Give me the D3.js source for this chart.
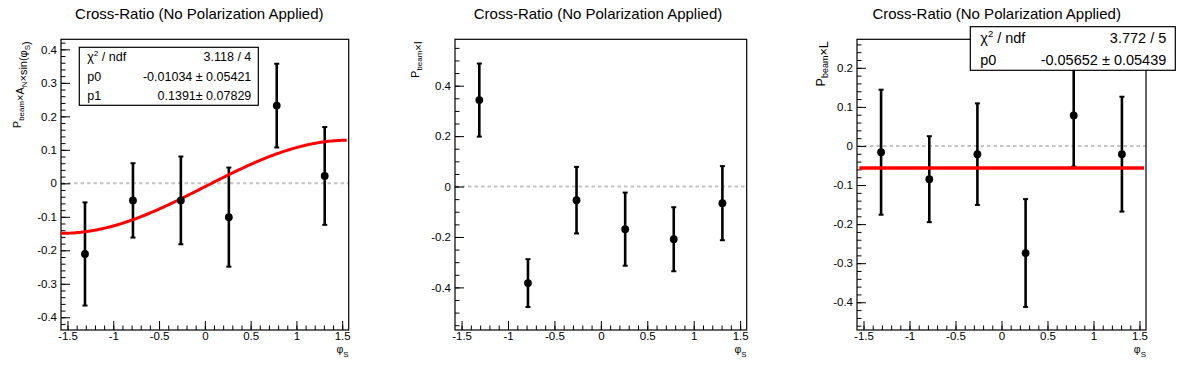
<!DOCTYPE html>
<html lang="en">
<head>
  <meta charset="UTF-8">
  <title>Cross-Ratio (No Polarization Applied)</title>
  <script src="https://d3js.org/d3.v7.min.js"></script>
  <style>
    body { margin: 0; background: #fff; }
    svg { display: block; font-family: "Liberation Sans", Arial, Helvetica, sans-serif; }
    .tick text { font-size: 11.5px; fill: #000; }
    .tick line { stroke: #000; stroke-width: 1; }
  </style>
</head>
<body>
<svg id="chart" width="1196" height="372"></svg>
<script>
  // bin centres in phi_S (same for all three plots)
  const phiBins = [-1.309, -0.785, -0.262, 0.262, 0.785, 1.309];

  const anValues = [-0.211, -0.051, -0.051, -0.101, 0.232, 0.022];
  const anErrors = [0.154, 0.111, 0.131, 0.148, 0.125, 0.146];
  const iValues  = [0.343, -0.383, -0.054, -0.169, -0.209, -0.066];
  const iErrors  = [0.145, 0.095, 0.132, 0.145, 0.127, 0.147];
  const lValues  = [-0.016, -0.085, -0.021, -0.274, 0.078, -0.021];
  const lErrors  = [0.160, 0.110, 0.130, 0.138, 0.131, 0.147];

  // fit results: p0 + p1*sin(phi) and p0 (constant)
  const anFit = [-0.01034, 0.1391];
  const lFit  = [-0.05652];
  const anStats = [["χ2 / ndf", "3.118 / 4"], ["p0", "-0.01034 ± 0.05421"], ["p1", "0.1391± 0.07829"]];
  const lStats  = [["χ2 / ndf", "3.772 / 5"], ["p0", "-0.05652 ± 0.05439"]];

  const xTicks = [-1.5, -1, -0.5, 0, 0.5, 1, 1.5];
  const anTicks = [-0.4, -0.3, -0.2, -0.1, 0, 0.1, 0.2, 0.3, 0.4];
  const iTicks  = [-0.4, -0.2, 0, 0.2, 0.4];
  const lTicks  = [-0.4, -0.3, -0.2, -0.1, 0, 0.1, 0.2];

  const title = "Cross-Ratio (No Polarization Applied)";
  const fmt = d => Math.abs(d) < 1e-9 ? "0" : String(+d.toFixed(2));

  const svg = d3.select("#chart");
  const padW = 1196 / 3;

  function minorTicks(lo, hi, step) {
    const out = [];
    for (let i = Math.ceil(lo / step - 1e-6); i <= Math.floor(hi / step + 1e-6); i++) out.push(+(i * step).toFixed(4));
    return out;
  }

  function drawPanel(p) {
    const g = svg.append("g");
    const x = d3.scaleLinear().domain([-Math.PI / 2, Math.PI / 2]).range([p.left, p.right]);
    const y = d3.scaleLinear().domain(p.yDomain).range([p.bottom, p.top]);

    g.append("text")
      .attr("x", p.index * padW + padW / 2).attr("y", 19)
      .attr("text-anchor", "middle").style("font-size", "15px")
      .text(title);

    // zero line
    g.append("line")
      .attr("x1", p.left).attr("x2", p.right)
      .attr("y1", y(0)).attr("y2", y(0))
      .attr("stroke", "#c4c4c4").attr("stroke-width", 2).attr("stroke-dasharray", "3.5,3");

    // minor ticks
    g.append("g").attr("transform", `translate(0,${p.bottom})`)
      .call(d3.axisBottom(x).tickValues(minorTicks(-1.57, 1.57, 0.1)).tickSize(-4.5).tickFormat(""))
      .call(a => a.select(".domain").remove());
    g.append("g").attr("transform", `translate(${p.left},0)`)
      .call(d3.axisLeft(y).tickValues(minorTicks(p.yDomain[0], p.yDomain[1], p.yMinor)).tickSize(-4.5).tickFormat(""))
      .call(a => a.select(".domain").remove());

    // major ticks
    g.append("g").attr("transform", `translate(0,${p.bottom})`)
      .call(d3.axisBottom(x).tickValues(xTicks).tickSize(-9).tickPadding(2).tickFormat(fmt))
      .call(a => a.select(".domain").remove());
    g.append("g").attr("transform", `translate(${p.left},0)`)
      .call(d3.axisLeft(y).tickValues(p.yTicks).tickSize(-9).tickPadding(4).tickFormat(fmt))
      .call(a => a.select(".domain").remove());

    g.append("rect")
      .attr("x", p.left).attr("y", p.top)
      .attr("width", p.right - p.left).attr("height", p.bottom - p.top)
      .attr("fill", "none").attr("stroke", "#000").attr("stroke-width", 1.2);

    // axis titles
    const xt = g.append("text")
      .attr("x", p.right).attr("y", 353)
      .attr("text-anchor", "end").style("font-size", "10.5px");
    xt.append("tspan").text("φ");
    xt.append("tspan").attr("dy", 4).style("font-size", "8px").text("S");

    const yt = g.append("text")
      .attr("transform", `translate(${p.yTitleX},${p.top + 2}) rotate(-90)`)
      .attr("text-anchor", "end").style("font-size", p.yTitleSize + "px");
    p.yTitle.forEach(([s, sub]) => {
      if (sub) yt.append("tspan").attr("dy", 3).style("font-size", (p.yTitleSize * 0.72) + "px").text(s);
      else yt.append("tspan").attr("dy", 0).text(s);
      if (sub) yt.append("tspan").attr("dy", -3).text("");
    });

    const pts = phiBins.map((b, i) => ({ x: b, v: p.values[i], e: p.errors[i] }));

    // error bars
    const eb = g.append("g").attr("stroke", "#000");
    eb.selectAll("line.bar").data(pts).join("line").attr("class", "bar")
      .attr("x1", d => x(d.x)).attr("x2", d => x(d.x))
      .attr("y1", d => y(d.v - d.e)).attr("y2", d => y(d.v + d.e))
      .attr("stroke-width", 2.6);
    eb.selectAll("line.cap").data(pts.flatMap(d => [d.v - d.e, d.v + d.e].map(v => ({ x: d.x, v }))))
      .join("line").attr("class", "cap")
      .attr("x1", d => x(d.x) - 2.5).attr("x2", d => x(d.x) + 2.5)
      .attr("y1", d => y(d.v)).attr("y2", d => y(d.v))
      .attr("stroke-width", 2);

    if (p.fit) {
      g.append("path")
        .attr("d", d3.line().x(d => x(d[0])).y(d => y(d[1]))(p.fit))
        .attr("fill", "none").attr("stroke", "#ff0000").attr("stroke-width", p.fitWidth);
    }

    g.selectAll("circle").data(pts).join("circle")
      .attr("cx", d => x(d.x)).attr("cy", d => y(d.v)).attr("r", 3.9).attr("fill", "#000");

    if (p.stats) {
      const s = p.stats;
      g.append("rect")
        .attr("x", s.x).attr("y", s.y).attr("width", s.w).attr("height", s.h)
        .attr("fill", "#fff").attr("stroke", "#000").attr("stroke-width", 1.2);
      const rowH = s.h / s.rows.length;
      s.rows.forEach(([k, v], i) => {
        const by = s.y + rowH * (i + 0.5) + s.size * 0.36;
        const kt = g.append("text").attr("x", s.x + s.pad).attr("y", by).style("font-size", s.size + "px");
        if (k.startsWith("χ2")) {
          kt.append("tspan").text("χ");
          kt.append("tspan").attr("dy", -s.size * 0.4).style("font-size", (s.size * 0.65) + "px").text("2");
          kt.append("tspan").attr("dy", s.size * 0.4).text(k.slice(2));
        } else kt.text(k);
        g.append("text").attr("x", s.x + s.w - s.pad + 1).attr("y", by)
          .attr("text-anchor", "end").style("font-size", s.size + "px").text(v);
      });
    }
  }

  const sinFit = d3.range(-Math.PI / 2, Math.PI / 2 - 0.02, 0.02).map(t => [t, anFit[0] + anFit[1] * Math.sin(t)]);
  const constFit = [[-1.545, lFit[0]], [1.55, lFit[0]]];

  drawPanel({
    index: 0, left: 61, right: 348.7, top: 39.3, bottom: 330,
    yDomain: [-0.438, 0.43], yTicks: anTicks, yMinor: 0.02,
    values: anValues, errors: anErrors, fit: sinFit, fitWidth: 3,
    yTitleX: 21, yTitleSize: 11,
    yTitle: [["P"], ["beam", 1], ["×A"], ["N", 1], ["×sin(φ"], ["S", 1], [")"]],
    stats: { x: 79.3, y: 47.3, w: 179, h: 58, size: 12.5, pad: 8, rows: anStats }
  });
  drawPanel({
    index: 1, left: 455, right: 746.7, top: 39.3, bottom: 330,
    yDomain: [-0.569, 0.584], yTicks: iTicks, yMinor: 0.05,
    values: iValues, errors: iErrors,
    yTitleX: 419, yTitleSize: 11,
    yTitle: [["P"], ["beam", 1], ["×I"]]
  });
  drawPanel({
    index: 2, left: 857, right: 1146, top: 39.3, bottom: 330,
    yDomain: [-0.471, 0.273], yTicks: lTicks, yMinor: 0.02,
    values: lValues, errors: lErrors, fit: constFit, fitWidth: 3.5,
    yTitleX: 825, yTitleSize: 12.5,
    yTitle: [["P"], ["beam", 1], ["×L"]],
    stats: { x: 970.3, y: 26.7, w: 205, h: 43.6, size: 14.5, pad: 10, rows: lStats }
  });
</script>
</body>
</html>
